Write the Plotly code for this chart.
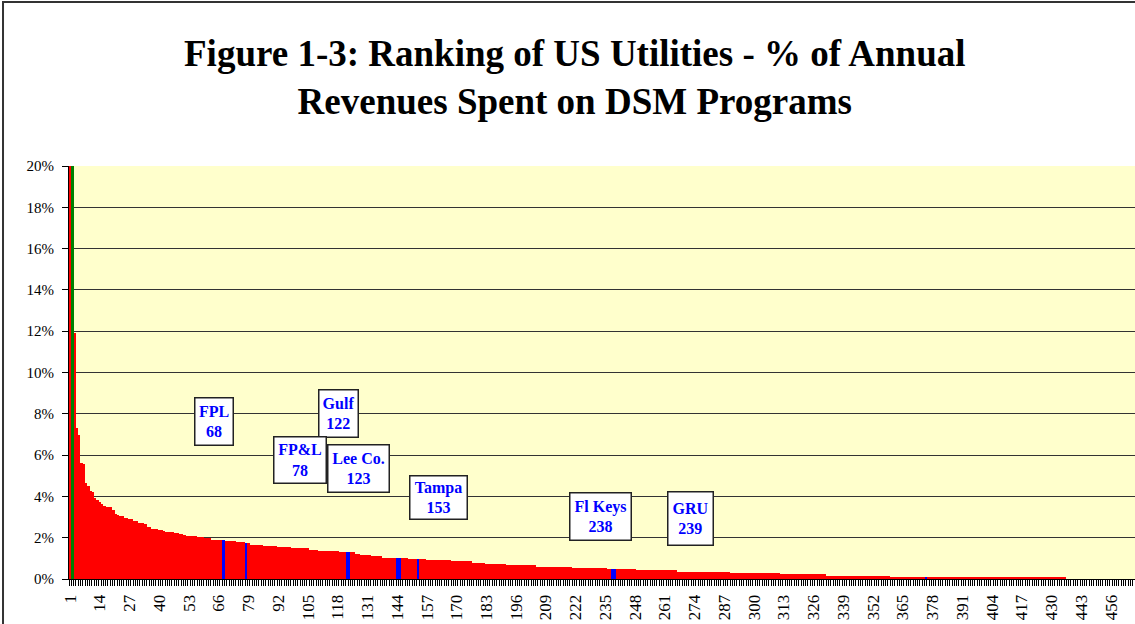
import plotly.graph_objects as go

# % of annual revenues spent on DSM, ranked (utility rank 1..466)
dsm_pct = [
    25.0, 21.0, 11.9, 7.33, 6.95, 5.60, 5.55, 4.63, 4.50, 4.27,
    4.22, 3.93, 3.82, 3.71, 3.61, 3.55, 3.48, 3.48, 3.47, 3.34,
    3.15, 3.10, 3.05, 3.04, 2.96, 2.95, 2.92, 2.91, 2.81, 2.80,
    2.70, 2.70, 2.69, 2.68, 2.54, 2.53, 2.43, 2.43, 2.42, 2.35,
    2.35, 2.34, 2.29, 2.29, 2.28, 2.28, 2.22, 2.21, 2.16, 2.16,
    2.15, 2.09, 2.09, 2.08, 2.06, 2.06, 2.05, 2.05, 2.04, 1.99,
    1.99, 1.98, 1.91, 1.91, 1.91, 1.90, 1.90, 1.90, 1.85, 1.85,
    1.85, 1.84, 1.84, 1.80, 1.80, 1.79, 1.79, 1.75, 1.75, 1.65,
    1.65, 1.65, 1.64, 1.64, 1.64, 1.61, 1.61, 1.61, 1.60, 1.60,
    1.60, 1.56, 1.56, 1.56, 1.55, 1.55, 1.55, 1.51, 1.51, 1.51,
    1.51, 1.50, 1.50, 1.50, 1.50, 1.41, 1.41, 1.40, 1.40, 1.37,
    1.37, 1.37, 1.37, 1.36, 1.36, 1.36, 1.36, 1.35, 1.32, 1.32,
    1.32, 1.32, 1.32, 1.31, 1.31, 1.22, 1.22, 1.17, 1.17, 1.17,
    1.16, 1.16, 1.12, 1.12, 1.11, 1.11, 1.11, 1.03, 1.03, 1.03,
    1.03, 1.03, 1.03, 1.03, 1.03, 1.02, 1.02, 1.02, 0.98, 0.98,
    0.98, 0.98, 0.98, 0.97, 0.96, 0.96, 0.92, 0.92, 0.92, 0.92,
    0.92, 0.92, 0.92, 0.91, 0.91, 0.91, 0.91, 0.87, 0.87, 0.87,
    0.87, 0.87, 0.86, 0.86, 0.86, 0.86, 0.77, 0.77, 0.77, 0.77,
    0.77, 0.76, 0.72, 0.72, 0.72, 0.72, 0.72, 0.71, 0.71, 0.71,
    0.71, 0.67, 0.67, 0.67, 0.67, 0.67, 0.67, 0.67, 0.66, 0.66,
    0.66, 0.66, 0.66, 0.66, 0.58, 0.58, 0.58, 0.58, 0.58, 0.58,
    0.58, 0.58, 0.57, 0.57, 0.57, 0.57, 0.57, 0.57, 0.57, 0.57,
    0.53, 0.53, 0.53, 0.53, 0.53, 0.53, 0.53, 0.53, 0.52, 0.52,
    0.52, 0.52, 0.52, 0.52, 0.52, 0.48, 0.48, 0.48, 0.48, 0.48,
    0.48, 0.48, 0.48, 0.48, 0.47, 0.47, 0.47, 0.47, 0.44, 0.44,
    0.44, 0.44, 0.44, 0.44, 0.44, 0.44, 0.44, 0.44, 0.44, 0.44,
    0.44, 0.44, 0.44, 0.44, 0.44, 0.44, 0.35, 0.35, 0.35, 0.35,
    0.35, 0.35, 0.35, 0.35, 0.35, 0.35, 0.35, 0.35, 0.35, 0.35,
    0.35, 0.35, 0.35, 0.35, 0.35, 0.35, 0.35, 0.35, 0.35, 0.31,
    0.31, 0.31, 0.31, 0.31, 0.31, 0.31, 0.31, 0.31, 0.31, 0.31,
    0.31, 0.31, 0.31, 0.31, 0.31, 0.31, 0.31, 0.31, 0.31, 0.31,
    0.31, 0.26, 0.26, 0.26, 0.26, 0.26, 0.26, 0.26, 0.26, 0.26,
    0.26, 0.26, 0.26, 0.26, 0.26, 0.26, 0.26, 0.26, 0.26, 0.26,
    0.26, 0.16, 0.16, 0.16, 0.16, 0.16, 0.16, 0.16, 0.16, 0.16,
    0.16, 0.16, 0.16, 0.16, 0.16, 0.16, 0.16, 0.16, 0.16, 0.16,
    0.16, 0.16, 0.16, 0.16, 0.16, 0.16, 0.16, 0.16, 0.16, 0.10,
    0.10, 0.10, 0.10, 0.10, 0.10, 0.10, 0.10, 0.10, 0.10, 0.10,
    0.10, 0.10, 0.10, 0.10, 0.10, 0.10, 0.10, 0.10, 0.10, 0.10,
    0.10, 0.10, 0.10, 0.10, 0.10, 0.10, 0.10, 0.10, 0.10, 0.10,
    0.10, 0.10, 0.10, 0.10, 0.10, 0.10, 0.10, 0.05, 0.05, 0.05,
    0.05, 0.05, 0.05, 0.05, 0.05, 0.05, 0.05, 0.05, 0.05, 0.05,
    0.05, 0.05, 0.05, 0.05, 0.05, 0.05, 0.05, 0.05, 0.05, 0.05,
    0.05, 0.05, 0.05, 0.05, 0.05, 0.05, 0.05, 0.05, 0.05, 0.05,
    0.05, 0.05, 0.05, 0.05, 0.05, 0.05, 0.00, 0.00, 0.00, 0.00,
    0.00, 0.00, 0.00, 0.00, 0.00, 0.00, 0.00, 0.00, 0.00, 0.00,
    0.00, 0.00, 0.00, 0.00, 0.00, 0.00, 0.00, 0.00, 0.00, 0.00,
    0.00, 0.00, 0.00, 0.00, 0.00, 0.00,
]
ranks = list(range(1, len(dsm_pct) + 1))

green_ranks = [2]
blue_ranks = [68, 78, 122, 123, 144, 145, 153, 238, 239, 375]

tick_ranks = [1, 14, 27, 40, 53, 66, 79, 92, 105, 118, 131, 144, 157, 170,
              183, 196, 209, 222, 235, 248, 261, 274, 287, 300, 313, 326,
              339, 352, 365, 378, 391, 404, 417, 430, 443, 456]

# Florida utility call-out boxes: label, x (rank axis), y (%), box w, h (px)
callout_text = ["FPL<br>68", "Gulf<br>122", "FP&L<br>78", "Lee Co.<br>123",
                "Tampa<br>153", "Fl Keys<br>238", "GRU<br>239"]
callout_x = [64.0, 118.5, 101.4, 127.2, 162.2, 232.7, 272.0]
callout_y = [7.63, 8.01, 5.75, 5.36, 3.97, 3.05, 2.91]
callout_w = [37, 38, 51, 60, 56, 60, 44]
callout_h = [46, 46, 45, 46, 42, 46, 52]

colors = []
for r in ranks:
    if r in green_ranks:
        colors.append("#008000")
    elif r in blue_ranks:
        colors.append("#0000FF")
    else:
        colors.append("#FF0000")

SERIF = "Times New Roman, Liberation Serif, serif"

fig = go.Figure(go.Bar(x=ranks, y=dsm_pct, marker=dict(color=colors, line=dict(width=0)),
                       hoverinfo="x+y"))

annotations = []
for t, x, y, w, h in zip(callout_text, callout_x, callout_y, callout_w, callout_h):
    annotations.append(dict(
        x=x, y=y, xref="x", yref="y", text=t, showarrow=False,
        font=dict(family=SERIF, size=16, color="#0000FF", weight="bold"),
        bgcolor="white", bordercolor="#222222", borderwidth=1.5, borderpad=0,
        width=w, height=h, align="center", valign="middle"))

annotations.append(dict(
    x=0.4747, y=1.214, xref="paper", yref="paper",
    text="Figure 1-3: Ranking of US Utilities - % of Annual<br>Revenues Spent on DSM Programs",
    showarrow=False, xanchor="center", yanchor="middle", align="center",
    font=dict(family=SERIF, size=37, color="black", weight="bold")))

fig.update_layout(
    width=1135, height=624,
    margin=dict(l=69, r=0, t=166, b=45, pad=0),
    paper_bgcolor="white", plot_bgcolor="#FFFFCC",
    bargap=0, showlegend=False,
    font=dict(family=SERIF, color="black"),
    annotations=annotations,
    shapes=[dict(type="rect", xref="paper", yref="paper",
                 x0=-0.0619, x1=1.05, y0=-0.3, y1=1.397,
                 line=dict(color="#333333", width=2), fillcolor="rgba(0,0,0,0)", layer="above")],
    xaxis=dict(
        range=[0.5, len(dsm_pct) + 0.5], tickmode="array", tickvals=tick_ranks,
        ticktext=[str(v) for v in tick_ranks], tickangle=-90,
        tickfont=dict(family=SERIF, size=17, color="black"),
        ticks="", showgrid=False, zeroline=False,
        showline=True, linecolor="black", linewidth=1,
        ticklabelstandoff=8,
        minor=dict(ticks="outside", tick0=0.5, dtick=1, ticklen=6,
                   tickcolor="black", tickwidth=1, showgrid=False),
    ),
    yaxis=dict(
        range=[0, 20], tickmode="linear", tick0=0, dtick=2, ticksuffix="%",
        tickfont=dict(family=SERIF, size=15, color="black"),
        ticks="outside", ticklen=6, tickcolor="black",
        ticklabelstandoff=5,
        showgrid=True, gridcolor="#333333", gridwidth=1,
        zeroline=False, showline=True, linecolor="black", linewidth=1,
    ),
)

fig.write_html("out.html", config={"displayModeBar": False},
               post_script="document.body.style.margin='0';")
